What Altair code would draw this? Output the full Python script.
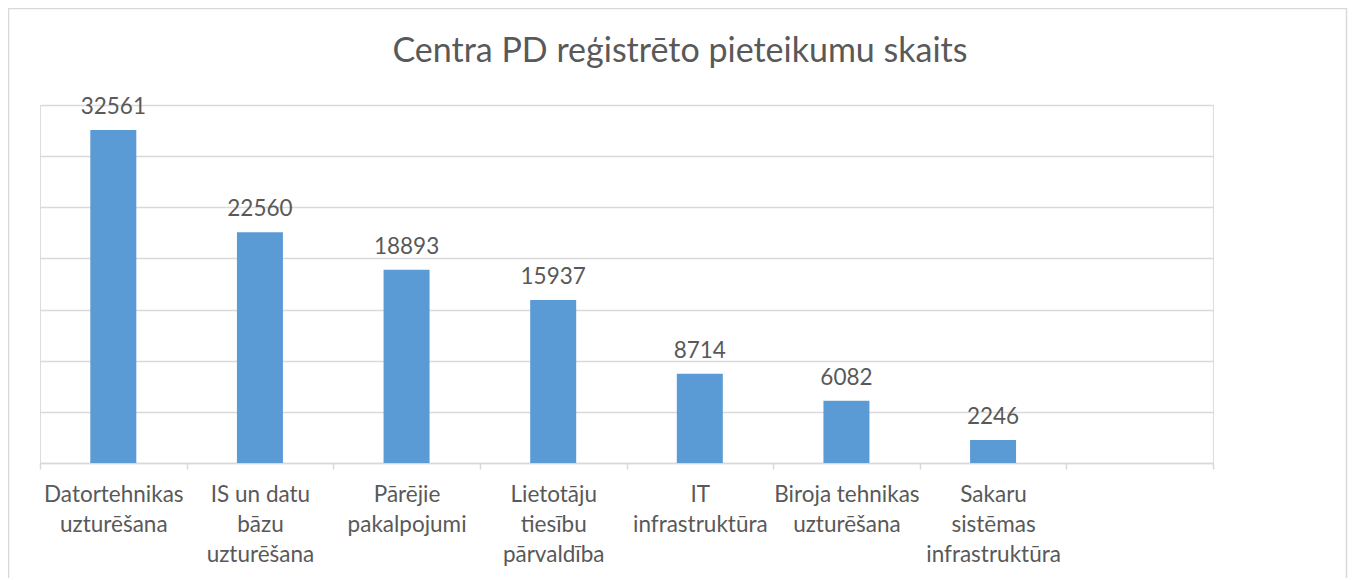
import altair as alt
import pandas as pd

categories = [
    "Datortehnikas|uzturēšana",
    "IS un datu|bāzu|uzturēšana",
    "Pārējie|pakalpojumi",
    "Lietotāju|tiesību|pārvaldība",
    "IT|infrastruktūra",
    "Biroja tehnikas|uzturēšana",
    "Sakaru|sistēmas|infrastruktūra",
]
values = [32561, 22560, 18893, 15937, 8714, 6082, 2246]
empty_slot = [" "]
y_ticks = [0, 5000, 10000, 15000, 20000, 25000, 30000, 35000]
title_text = "Centra PD reģistrēto pieteikumu skaits"

df = pd.DataFrame({"cat": categories, "val": values})
domain = categories + empty_slot

FONT = "Lato"
GRAY = "#595959"
LINE = "#d9d9d9"

x = alt.X(
    "cat:N",
    scale=alt.Scale(domain=domain, paddingInner=0, paddingOuter=0),
    sort=None,
    axis=alt.Axis(
        title=None,
        labelAngle=0,
        labelExpr="split(datum.label, '|')",
        labelFont=FONT,
        labelFontSize=22.5,
        labelColor=GRAY,
        labelLineHeight=30,
        labelPadding=14,
        labelLimit=0,
        tickBand="extent",
        tickSize=6,
        tickColor=LINE,
        tickWidth=1.5,
        domainColor=LINE,
        domainWidth=1.5,
        grid=False,
    ),
)
y = alt.Y(
    "val:Q",
    scale=alt.Scale(domain=[0, 35000], nice=False),
    axis=alt.Axis(
        title=None,
        values=y_ticks,
        labels=False,
        ticks=False,
        domain=False,
        grid=True,
        gridColor=LINE,
        gridWidth=1.5,
    ),
)

base = alt.Chart(df)
bars = base.mark_bar(color="#5B9BD5", width=46).encode(x=x, y=y)
labels = base.mark_text(
    baseline="bottom", dy=-11, font=FONT, fontSize=22.5, color=GRAY
).encode(x=x, y=y, text=alt.Text("val:Q", format="d"))

single = alt.Data(values=[{}])
border = alt.Chart(single).mark_rect(
    fillOpacity=0, stroke=LINE, strokeWidth=1.5
).encode(
    x=alt.value(-31.5), x2=alt.value(1306.5), y=alt.value(-96.5), y2=alt.value(600)
)
title = alt.Chart(single).mark_text(
    font=FONT, fontSize=34, color=GRAY, align="center", baseline="alphabetic"
).encode(x=alt.value(640), y=alt.value(-43), text=alt.value(title_text))

chart = (
    alt.layer(bars, labels, border, title)
    .properties(
        width=1173,
        height=358,
        autosize=alt.AutoSizeParams(type="none"),
        padding={"left": 32, "top": 97, "right": 135, "bottom": 115},
    )
    .configure_view(stroke=None)
    .configure(background="white")
)

chart.save("out.html", embed_options={"renderer": "svg", "actions": False})
